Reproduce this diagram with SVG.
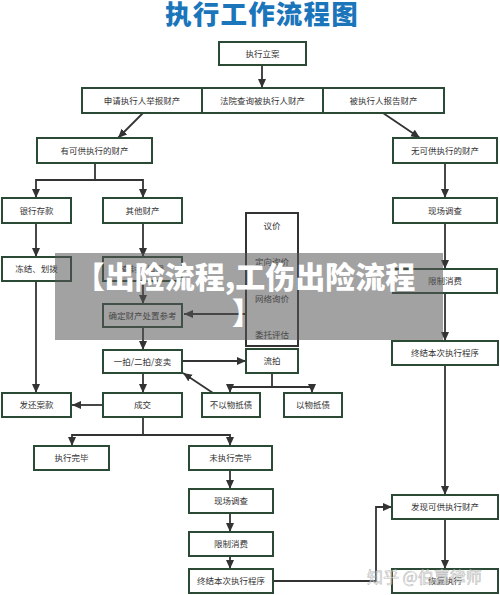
<svg xmlns="http://www.w3.org/2000/svg" width="500" height="595" viewBox="0 0 500 595">
<style>
.b{fill:#fff;stroke:#2b4a36;stroke-width:2}
.t{font-family:"Noto Sans CJK SC","Noto Sans",sans-serif;font-size:8.5px;fill:#333;text-anchor:middle}
.c{fill:none;stroke:#333;stroke-width:1.8}
.a{marker-end:url(#ah)}
</style>
<defs>
<marker id="ah" markerUnits="userSpaceOnUse" markerWidth="9" markerHeight="9" viewBox="0 0 9 9" refX="9" refY="4.5" orient="auto">
<path d="M0,0.5 L9,4.5 L0,8.5 Z" fill="#333"/>
</marker>
</defs>
<rect width="500" height="595" fill="#fff"/>
<text x="262" y="24" font-family="'Noto Sans CJK SC',sans-serif" font-size="26.5" font-weight="900" fill="#1b75bb" text-anchor="middle" letter-spacing="1.2">执行工作流程图</text>

<g id="connectors">
<path class="c a" d="M262,65 V88"/>
<path class="c a" d="M143,113 L118,138"/>
<path class="c a" d="M383,113 L420,138"/>
<path class="c" d="M95,163 V180"/>
<path class="c a" d="M95,180 H36 V198"/>
<path class="c a" d="M95,180 H143 V198"/>
<path class="c a" d="M445,163 V198"/>
<path class="c a" d="M36,223 V257"/>
<path class="c a" d="M143,223 V257"/>
<path class="c a" d="M445,223 V269"/>
<path class="c a" d="M445,293 V341"/>
<path class="c a" d="M445,365 V495"/>
<path class="c a" d="M445,519 V569"/>
<path class="c a" d="M36,281 V393"/>
<path class="c a" d="M143,281 V304"/>
<path class="c a" d="M246,314 H184"/>
<path class="c a" d="M272,233 V253"/>
<path class="c a" d="M272,269 V290"/>
<path class="c a" d="M272,307 V324"/>
<path class="c a" d="M143,327 V350"/>
<path class="c a" d="M182,361 H246"/>
<path class="c" d="M272,373 V387"/>
<path class="c a" d="M272,387 H230 V393"/>
<path class="c a" d="M272,387 H312 V393"/>
<path class="c a" d="M213,393 L183,373"/>
<path class="c a" d="M143,373 V393"/>
<path class="c a" d="M103,405 H72"/>
<path class="c" d="M143,417 V435"/>
<path class="c a" d="M143,435 H72 V446"/>
<path class="c a" d="M143,435 H230 V446"/>
<path class="c a" d="M230,470 V489"/>
<path class="c a" d="M230,513 V532"/>
<path class="c a" d="M230,556 V569"/>
<path class="c a" d="M273,581 H376 V507 H392"/>
</g>

<g id="n1"><rect class="b" x="219" y="42" width="87" height="23"/><text class="t" x="262.5" y="56.5">执行立案</text></g>
<g id="n2"><rect class="b" x="82" y="88" width="120" height="25"/><text class="t" x="142" y="103.5">申请执行人举报财产</text></g>
<g id="n3"><rect class="b" x="202" y="88" width="121" height="25"/><text class="t" x="262.5" y="103.5">法院查询被执行人财产</text></g>
<g id="n4"><rect class="b" x="323" y="88" width="121" height="25"/><text class="t" x="383.5" y="103.5">被执行人报告财产</text></g>
<g id="n5"><rect class="b" x="37" y="138" width="115" height="25"/><text class="t" x="94.5" y="153.5">有可供执行的财产</text></g>
<g id="n6"><rect class="b" x="393" y="138" width="104" height="25"/><text class="t" x="445" y="153.5">无可供执行的财产</text></g>
<g id="n7"><rect class="b" x="2" y="198" width="69" height="25"/><text class="t" x="36.5" y="213.5">银行存款</text></g>
<g id="n8"><rect class="b" x="103" y="198" width="79" height="25"/><text class="t" x="142.5" y="213.5">其他财产</text></g>
<g id="n9"><rect class="b" x="393" y="198" width="104" height="25"/><text class="t" x="445" y="213.5">现场调查</text></g>
<g id="n10"><rect class="b" x="2" y="257" width="69" height="24"/><text class="t" x="36.5" y="272">冻结、划拨</text></g>
<g id="n11"><rect class="b" x="103" y="257" width="79" height="24"/><text class="t" x="142.5" y="272">查封、扣押</text></g>
<g id="n12"><rect class="b" x="393" y="269" width="104" height="24"/><text class="t" x="445" y="284">限制消费</text></g>
<g id="n13"><rect x="246" y="213" width="52" height="133" fill="#fff" stroke="#333" stroke-width="2"/>
<text class="t" x="272" y="229">议价</text>
<text class="t" x="272" y="265">定向询价</text>
<text class="t" x="272" y="302">网络询价</text>
<text class="t" x="272" y="338">委托评估</text></g>
<g id="n14"><rect class="b" x="103" y="304" width="79" height="23"/><text class="t" x="142.5" y="318.5">确定财产处置参考</text></g>
<g id="n15"><rect class="b" x="392" y="341" width="106" height="24"/><text class="t" x="445" y="356">终结本次执行程序</text></g>
<g id="n16"><rect class="b" x="103" y="350" width="79" height="23"/><text class="t" x="142.5" y="364.5">一拍/二拍/变卖</text></g>
<g id="n17"><rect class="b" x="246" y="349" width="52" height="24"/><text class="t" x="272" y="364">流拍</text></g>
<g id="n18"><rect class="b" x="2" y="393" width="69" height="24"/><text class="t" x="36.5" y="408">发还案款</text></g>
<g id="n19"><rect class="b" x="103" y="393" width="79" height="24"/><text class="t" x="142.5" y="408">成交</text></g>
<g id="n20"><rect class="b" x="202" y="393" width="58" height="24"/><text class="t" x="231" y="408">不以物抵债</text></g>
<g id="n21"><rect class="b" x="284" y="393" width="58" height="24"/><text class="t" x="313" y="408">以物抵债</text></g>
<g id="n22"><rect class="b" x="34" y="446" width="75" height="24"/><text class="t" x="71.5" y="461">执行完毕</text></g>
<g id="n23"><rect class="b" x="189" y="446" width="83" height="24"/><text class="t" x="230.5" y="461">未执行完毕</text></g>
<g id="n24"><rect class="b" x="189" y="489" width="84" height="24"/><text class="t" x="231" y="504">现场调查</text></g>
<g id="n25"><rect class="b" x="392" y="495" width="106" height="24"/><text class="t" x="445" y="510">发现可供执行财产</text></g>
<g id="n26"><rect class="b" x="189" y="532" width="84" height="24"/><text class="t" x="231" y="547">限制消费</text></g>
<g id="n27"><rect class="b" x="189" y="569" width="84" height="24"/><text class="t" x="231" y="584">终结本次执行程序</text></g>
<g id="n28"><rect class="b" x="392" y="569" width="106" height="24"/><text class="t" x="445" y="584">恢复执行</text></g>

<g id="overlay">
<rect x="55" y="253" width="388" height="87" fill="#555" fill-opacity="0.55"/>
<text x="245" y="288" font-family="'Noto Sans CJK SC',sans-serif" font-size="30" font-weight="900" fill="#fff" text-anchor="middle">【出险流程,工伤出险流程</text>
<text x="247" y="324" font-family="'Noto Sans CJK SC',sans-serif" font-size="30" font-weight="900" fill="#fff" text-anchor="middle">】</text>
<text x="367" y="583" font-family="'Noto Sans CJK SC',sans-serif" font-size="16" fill="#fff" fill-opacity="0.6" stroke="#888" stroke-opacity="0.6" stroke-width="0.6">知乎 @伯嘉律师</text>
</g>
</svg>
